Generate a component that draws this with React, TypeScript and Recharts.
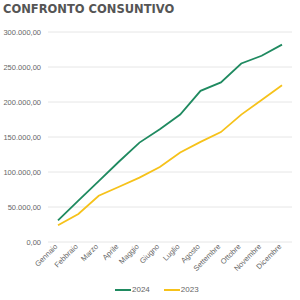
import React from 'react';
import { LineChart, Line, XAxis, YAxis, CartesianGrid, Legend } from 'recharts';

const months = [
  'Gennaio', 'Febbraio', 'Marzo', 'Aprile', 'Maggio', 'Giugno',
  'Luglio', 'Agosto', 'Settembre', 'Ottobre', 'Novembre', 'Dicembre',
];
const values2024 = [31000, 59000, 87000, 115000, 142000, 161000, 182000, 216000, 228000, 255000, 266000, 282000];
const values2023 = [24000, 40000, 66000, 79000, 92000, 107000, 128000, 143000, 157000, 182000, 203000, 224000];
const yTicks = [0, 50000, 100000, 150000, 200000, 250000, 300000];
const seriesKeys = ['2024', '2023'];
const seriesColors = ['#1f8a60', '#f6c21a'];

const data = months.map((m, i) => ({ month: m, '2024': values2024[i], '2023': values2023[i] }));

const fmt = (v: number) =>
  v.toLocaleString('it-IT', { minimumFractionDigits: 2, maximumFractionDigits: 2, useGrouping: 'always' } as any);

const MonthTick = ({ x, y, payload }: any) => (
  <text
    x={x}
    y={y}
    transform={`rotate(-45 ${x} ${y})`}
    textAnchor="end"
    fontSize={7.5}
    fill="#666"
    fontFamily="Liberation Sans, Arial, sans-serif"
  >
    {payload.value}
  </text>
);

// legend with the line right next to the label, like the original
const SeriesLegend = () => (
  <div
    style={{
      display: 'flex',
      alignItems: 'center',
      marginLeft: 115,
      fontSize: 8,
      fontFamily: 'Liberation Sans, Arial, sans-serif',
      color: '#666',
      lineHeight: '20px',
    }}
  >
    {seriesKeys.map((k, i) => (
      <span key={k} style={{ display: 'flex', alignItems: 'center', marginRight: 14 }}>
        <span style={{ display: 'inline-block', width: 16, height: 2, background: seriesColors[i], marginRight: 1 }} />
        {k}
      </span>
    ))}
  </div>
);

export default function App() {
  return (
    <div style={{ position: 'absolute', left: 0, top: 0, width: 300, height: 300, background: '#fff' }}>
      <div
        style={{
          position: 'absolute',
          left: 3,
          top: 2,
          fontFamily: 'DejaVu Sans, sans-serif',
          fontWeight: 900,
          fontSize: 11.5,
          color: '#555',
          zIndex: 1,
        }}
      >
        CONFRONTO CONSUNTIVO
      </div>
      <LineChart width={300} height={300} data={data} margin={{ top: 32, right: 8, left: 0, bottom: 0 }}>
        <CartesianGrid vertical={false} stroke="#e6e6e6" />
        <XAxis
          dataKey="month"
          axisLine={false}
          tickLine={false}
          interval={0}
          height={38}
          tickSize={0}
          tickMargin={5}
          padding={{ left: 10, right: 10 }}
          tick={<MonthTick />}
        />
        <YAxis
          width={48}
          domain={[0, 300000]}
          ticks={yTicks}
          axisLine={false}
          tickLine={false}
          tickMargin={1}
          tickFormatter={fmt}
          tick={{ fontSize: 7.5, fill: '#666', fontFamily: 'Liberation Sans, Arial, sans-serif' }}
        />
        <Legend verticalAlign="bottom" height={20} content={<SeriesLegend />} />
        <Line type="linear" dataKey="2024" stroke={seriesColors[0]} strokeWidth={1.8} dot={false} isAnimationActive={false} />
        <Line type="linear" dataKey="2023" stroke={seriesColors[1]} strokeWidth={1.8} dot={false} isAnimationActive={false} />
      </LineChart>
    </div>
  );
}
